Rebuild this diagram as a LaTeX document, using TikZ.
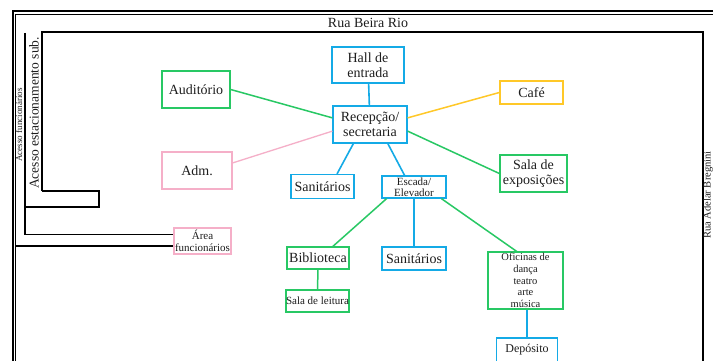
\documentclass[tikz,border=0pt]{standalone}
\usepackage{fontspec}
\setmainfont{Liberation Serif}
\definecolor{cblue}{RGB}{20,170,230}
\definecolor{cgreen}{RGB}{40,200,100}
\definecolor{cyellow}{RGB}{255,200,40}
\definecolor{cpink}{RGB}{245,175,200}
\definecolor{ctext}{RGB}{30,30,30}
\tikzset{
  box/.style={draw, line width=1.3, inner sep=0pt, align=center, text=ctext},
  big/.style={font=\fontsize{14}{15}\selectfont},
  small/.style={font=\fontsize{11}{11}\selectfont},
  tiny/.style={font=\fontsize{10.5}{11.7}\selectfont},
  bl/.style={box, draw=cblue},
  gr/.style={box, draw=cgreen},
  ye/.style={box, draw=cyellow},
  pk/.style={box, draw=cpink},
  cb/.style={draw=cblue, line width=1.6},
  cg/.style={draw=cgreen, line width=1.5},
  cy/.style={draw=cyellow, line width=1.5},
  cp/.style={draw=cpink, line width=1.3},
  wall/.style={draw=black, line width=1.5},
  lbl/.style={text=ctext, inner sep=0pt}
}
\begin{document}
\begin{tikzpicture}[x=1pt,y=-1pt]
\useasboundingbox[fill=white] (0,0) rectangle (713,361);
% frame
\draw[line width=2] (12.5,361) -- (12.5,11.5) -- (713,11.5);
\draw[line width=1] (15,361) -- (15,14.5) -- (713,14.5);
\draw[wall] (42,191) -- (42,32) -- (703,32) -- (703,361);
\draw[wall] (42,191) -- (99,191) -- (99,207) -- (25,207);
% nodes
\node[lbl, big] (rua) at (368,23) {Rua Beira Rio};
\node[lbl, font=\fontsize{10.5}{11}\selectfont, rotate=90, anchor=south] (adelar) at (713,195) {Rua Adelar Bregnini};
\node[lbl, font=\fontsize{13.5}{14}\selectfont, rotate=90] (est) at (34,113) {Acesso estacionamento sub.};
\node[lbl, font=\fontsize{9}{10}\selectfont, rotate=90] (func) at (19,125) {Acesso funcionários};
\node[bl, big, minimum width=72, minimum height=36] (hall) at (368,65) {Hall de\\entrada};
\node[bl, big, minimum width=74, minimum height=37] (rec) at (370,124.5) {Recepção/\\secretaria};
\node[gr, big, minimum width=68, minimum height=37] (aud) at (196,89.5) {Auditório};
\node[pk, big, minimum width=70, minimum height=37] (adm) at (197,170.5) {Adm.};
\node[ye, big, minimum width=63, minimum height=23] (cafe) at (531.5,92.5) {Café};
\node[gr, big, minimum width=67, minimum height=37] (expo) at (533.5,173.5) {Sala de\\exposições};
\node[bl, big, minimum width=63, minimum height=24] (san1) at (322.5,186.5) {Sanitários};
\node[bl, small, minimum width=64, minimum height=22] (esc) at (414,187) {Escada/\\Elevador};
\node[gr, big, minimum width=62, minimum height=22] (bib) at (318,258) {Biblioteca};
\node[gr, small, minimum width=63, minimum height=22] (sal) at (317.5,301) {Sala de leitura};
\node[bl, big, minimum width=64, minimum height=23] (san2) at (414,258.5) {Sanitários};
\node[gr, tiny, minimum width=75, minimum height=57] (ofi) at (525.5,280.5) {Oficinas de\\dança\\teatro\\arte\\música};
\node[bl, font=\fontsize{12}{13}\selectfont, minimum width=61, minimum height=24] (dep) at (527,350) {Depósito};
\node[pk, font=\fontsize{11}{12}\selectfont, minimum width=57, minimum height=26] (area) at (202.5,241) {Área\\funcionários};
% access lines
\coordinate (a1) at (25,33);
\coordinate (a2) at (25,234.5);
\coordinate (a3) at (15,246);
\draw[wall] (a1) -- (a2) -- (a2 -| area.west);
\draw[wall] (a3) -- (a3 -| area.west);
% connectors
\draw[cb] (hall) -- (rec);
\draw[cg] (aud.east) -- (rec.170);
\draw[cp] (adm.12) -- (rec.190);
\draw[cy] (rec.10) -- (cafe.west);
\draw[cg] (rec.350) -- (expo.west);
\draw[cb] (rec.229) -- (san1.41);
\draw[cb] (rec.313) -- (esc.129);
\draw[cg] (esc.203) -- (bib.38);
\draw[cb] (esc.south) -- (san2.north);
\draw[cg] (esc.337) -- (ofi.107);
\draw[cg] (bib.south) -- (sal.north);
\draw[cb, line width=2] (dep.north) -- (dep.north |- ofi.south);
\end{tikzpicture}
\end{document}
